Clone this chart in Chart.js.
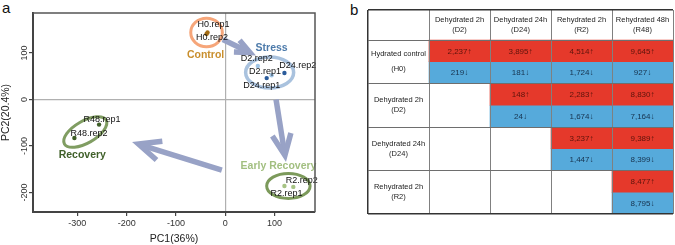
<!DOCTYPE html>
<html>
<head>
<meta charset="utf-8">
<script src="https://cdn.jsdelivr.net/npm/chart.js@4.4.1/dist/chart.umd.min.js"></script>
<style>
  body { margin: 0; background: #fff; width: 675px; height: 245px; overflow: hidden; position: relative; font-family: "Liberation Sans", Arial, sans-serif; }
  #pca { position: absolute; left: 0; top: 0; }
  #tbl { position: absolute; left: 366px; top: 8px; }
  .panel { position: absolute; font-size: 15px; color: #111; line-height: 15px; }
</style>
</head>
<body>
<div class="panel" style="left:2px;top:0px">a</div>
<div class="panel" style="left:350px;top:2px">b</div>
<canvas id="pca" width="340" height="245"></canvas>
<canvas id="tbl" width="309" height="208"></canvas>
<script>
// ---- panel a : PCA ----
const samples = ['H0.rep1', 'H0.rep2', 'D2.rep1', 'D2.rep2', 'D24.rep1', 'D24.rep2', 'R2.rep1', 'R2.rep2', 'R48.rep1', 'R48.rep2'];
const pc1 = [-36, -38, 94, 66, 84, 120, 120, 138, -256, -306];
const pc2 = [144, 141, 52, 72, 46, 57, -186, -188, -54, -83];
const condition = ['H0', 'H0', 'D2', 'D2', 'D24', 'D24', 'R2', 'R2', 'R48', 'R48'];
const conditions = ['H0', 'D2', 'D24', 'R2', 'R48'];
const groupNames = ['Control', 'Stress', 'Early Recovery', 'Recovery'];
const xTicks = [-300, -200, -100, 0, 100];
const yTicks = [-200, -100, 0, 100];

// ---- panel b : DEG counts ----
const colLabels = [['Dehydrated 2h', '(D2)'], ['Dehydrated 24h', '(D24)'], ['Rehydrated 2h', '(R2)'], ['Rehydrated 48h', '(R48)']];
const rowLabels = [['Hydrated control', '(H0)'], ['Dehydrated 2h', '(D2)'], ['Dehydrated 24h', '(D24)'], ['Rehydrated 2h', '(R2)']];
const upDEGs = [
  [2237, 3895, 4514, 9645],
  [null, 148, 2283, 8830],
  [null, null, 3237, 9389],
  [null, null, null, 8477]
];
const downDEGs = [
  [219, 181, 1724, 927],
  [null, 24, 1674, 7164],
  [null, null, 1447, 8399],
  [null, null, null, 8795]
];

// styles
const pointColor = { H0: '#a36c14', D2: '#9fc4e6', D24: '#2b5c9b', R2: '#a6c384', R48: '#3e5e27' };
const groupStyle = {
  'Control':        { ring: '#f6a67a', text: '#c98f2e' },
  'Stress':         { ring: '#a9c2de', text: '#4c7aaa' },
  'Early Recovery': { ring: '#7c9a5b', text: '#a2bf80' },
  'Recovery':       { ring: '#809d62', text: '#40602a' }
};
// ellipse centres / group label anchors in data units, radii in px
const rings = {
  'Control':        { c: [-38, 144], r: [15.8, 14.2], rot: 0, lw: 3, lab: [-40, 95] },
  'Stress':         { c: [90, 58], r: [24, 15.5], rot: 0, lw: 3.5, lab: [94, 110] },
  'Early Recovery': { c: [128, -186], r: [21.7, 12.5], rot: 0, lw: 3, lab: [108, -143] },
  'Recovery':       { c: [-284, -70], r: [24, 11], rot: -0.52, lw: 3, lab: [-290, -120] }
};
const arrows = [
  { from: [-5, 129], to: [50, 101], head: 16 },
  { from: [103, 0], to: [121, -120], head: 23 },
  { from: [-7, -152], to: [-176, -96], head: 24 }
];
const labelOffsets = [[6, -8], [5.5, 4], [-6.7, -3.3], [-1, -7], [-5, 7.3], [13.4, -7], [2, 7.5], [8.5, -6], [3, -5.5], [14.5, -5]];

const pcaDatasets = conditions.map(cnd => ({
  label: cnd,
  data: samples.map((s, i) => condition[i] === cnd ? { x: pc1[i], y: pc2[i], name: s, idx: i } : null).filter(Boolean),
  backgroundColor: pointColor[cnd],
  borderColor: pointColor[cnd],
  pointRadius: 2.2,
  borderWidth: 0
}));

const pcaDecor = {
  id: 'pcaDecor',
  beforeDatasetsDraw(chart) {
    const { ctx, scales: { x, y } } = chart;
    ctx.save();
    groupNames.forEach(g => {
      const e = rings[g];
      ctx.beginPath();
      ctx.ellipse(x.getPixelForValue(e.c[0]), y.getPixelForValue(e.c[1]), e.r[0], e.r[1], e.rot, 0, Math.PI * 2);
      ctx.strokeStyle = groupStyle[g].ring;
      ctx.lineWidth = e.lw;
      ctx.stroke();
    });
    ctx.strokeStyle = '#98a2c6';
    ctx.lineWidth = 5.5;
    ctx.lineCap = 'butt';
    ctx.lineJoin = 'miter';
    arrows.forEach(a => {
      const x0 = x.getPixelForValue(a.from[0]), y0 = y.getPixelForValue(a.from[1]);
      const x1 = x.getPixelForValue(a.to[0]), y1 = y.getPixelForValue(a.to[1]);
      const ang = Math.atan2(y1 - y0, x1 - x0);
      ctx.beginPath();
      ctx.moveTo(x0, y0);
      ctx.lineTo(x1 - 3 * Math.cos(ang), y1 - 3 * Math.sin(ang));
      ctx.stroke();
      ctx.beginPath();
      ctx.moveTo(x1 - a.head * Math.cos(ang - 0.42), y1 - a.head * Math.sin(ang - 0.42));
      ctx.lineTo(x1, y1);
      ctx.lineTo(x1 - a.head * Math.cos(ang + 0.42), y1 - a.head * Math.sin(ang + 0.42));
      ctx.stroke();
    });
    ctx.restore();
  },
  afterDatasetsDraw(chart) {
    const { ctx, scales: { x, y }, chartArea } = chart;
    ctx.save();
    ctx.textAlign = 'center';
    ctx.textBaseline = 'middle';
    ctx.fillStyle = '#111';
    ctx.font = '9px "Liberation Sans", Arial, sans-serif';
    chart.data.datasets.forEach((ds, di) => {
      chart.getDatasetMeta(di).data.forEach((pt, k) => {
        const o = labelOffsets[ds.data[k].idx];
        ctx.fillText(ds.data[k].name, pt.x + o[0], pt.y + o[1]);
      });
    });
    ctx.font = 'bold 10.5px "Liberation Sans", Arial, sans-serif';
    groupNames.forEach(g => {
      ctx.fillStyle = groupStyle[g].text;
      ctx.fillText(g, x.getPixelForValue(rings[g].lab[0]), y.getPixelForValue(rings[g].lab[1]));
    });
    // top / right frame
    ctx.strokeStyle = '#555';
    ctx.lineWidth = 1.5;
    ctx.beginPath();
    ctx.moveTo(chartArea.left, chartArea.top);
    ctx.lineTo(chartArea.right, chartArea.top);
    ctx.lineTo(chartArea.right, chartArea.bottom);
    ctx.stroke();
    ctx.restore();
  }
};

const axisFont = { family: '"Liberation Sans", Arial, sans-serif', size: 9 };
new Chart(document.getElementById('pca'), {
  type: 'scatter',
  data: { datasets: pcaDatasets },
  options: {
    responsive: false,
    animation: false,
    layout: { padding: { top: 13, right: 25, left: 0, bottom: 0 } },
    plugins: { legend: { display: false }, tooltip: { enabled: false } },
    scales: {
      x: {
        min: -390, max: 182,
        afterBuildTicks: s => { s.ticks = xTicks.map(v => ({ value: v })); },
        afterFit: s => { s.height = 33; },
        ticks: { font: axisFont, color: '#333', padding: 2 },
        grid: { color: c => c.tick && c.tick.value === 0 ? '#b0b0b0' : 'rgba(0,0,0,0)', tickColor: '#444', tickLength: 4, lineWidth: 1.2 },
        border: { color: '#444', width: 2 },
        title: { display: true, text: 'PC1(36%)', color: '#222', font: { family: '"Liberation Sans", Arial, sans-serif', size: 10.5 }, padding: { top: 0, bottom: 0 } }
      },
      y: {
        min: -242, max: 186,
        afterBuildTicks: s => { s.ticks = yTicks.map(v => ({ value: v })); },
        afterFit: s => { s.width = 33; },
        ticks: { font: axisFont, color: '#333', padding: -5, minRotation: 90, maxRotation: 90, crossAlign: 'center' },
        grid: { color: c => c.tick && c.tick.value === 0 ? '#b0b0b0' : 'rgba(0,0,0,0)', tickColor: '#444', tickLength: 4, lineWidth: 1.2 },
        border: { color: '#444', width: 2 },
        title: { display: true, text: 'PC2(20.4%)', color: '#222', font: { family: '"Liberation Sans", Arial, sans-serif', size: 10.5 }, padding: { top: 0, bottom: 0 } }
      }
    }
  },
  plugins: [pcaDecor]
});

// ---- table as floating bars ----
const H = 1.38; // header height in sub-row units
const tblDatasets = [];
rowLabels.forEach((r, ri) => {
  tblDatasets.push({
    label: 'up ' + ri, kind: 'up', counts: upDEGs[ri],
    data: [null].concat(upDEGs[ri].map(v => v == null ? null : [H + 2 * ri, H + 2 * ri + 1])),
    backgroundColor: '#e5392b'
  });
  tblDatasets.push({
    label: 'down ' + ri, kind: 'down', counts: downDEGs[ri],
    data: [null].concat(downDEGs[ri].map(v => v == null ? null : [H + 2 * ri + 1, H + 2 * ri + 2])),
    backgroundColor: '#56aadb'
  });
});

const tblText = {
  id: 'tblText',
  afterDatasetsDraw(chart) {
    const { ctx, scales: { x, y } } = chart;
    ctx.save();
    ctx.textAlign = 'center';
    ctx.textBaseline = 'middle';
    ctx.font = '8px "Liberation Sans", Arial, sans-serif';
    chart.data.datasets.forEach((ds, di) => {
      chart.getDatasetMeta(di).data.forEach((bar, k) => {
        if (k === 0 || ds.counts[k - 1] == null) return;
        ctx.fillStyle = ds.kind === 'up' ? '#5c140c' : '#17324d';
        const txt = ds.counts[k - 1].toLocaleString('en-US') + (ds.kind === 'up' ? '↑' : '↓');
        ctx.fillText(txt, bar.x, (bar.y + bar.base) / 2 + 0.5);
      });
    });
    ctx.font = '7.5px "Liberation Sans", Arial, sans-serif';
    ctx.fillStyle = '#222';
    colLabels.forEach((c, i) => {
      const cx = x.getPixelForValue(i + 1), cy = y.getPixelForValue(H / 2);
      ctx.fillText(c[0], cx, cy - 5);
      ctx.fillText(c[1], cx, cy + 5);
    });
    rowLabels.forEach((r, i) => {
      const cx = x.getPixelForValue(0), cy = y.getPixelForValue(H + 2 * i + 1);
      const d = i === 0 ? 7.5 : 5;
      ctx.fillText(r[0], cx, cy - d);
      ctx.fillText(r[1], cx, cy + d);
    });
    ctx.restore();
  }
};

const edge = (c, n) => c.index === 0 || c.index === n;
new Chart(document.getElementById('tbl'), {
  type: 'bar',
  data: { labels: ['', 'D2', 'D24', 'R2', 'R48'], datasets: tblDatasets },
  options: {
    responsive: false,
    animation: false,
    layout: { padding: 2 },
    plugins: { legend: { display: false }, tooltip: { enabled: false } },
    datasets: { bar: { grouped: false, barPercentage: 1, categoryPercentage: 1, borderWidth: 0, borderSkipped: false } },
    scales: {
      x: {
        offset: true,
        ticks: { display: false },
        grid: { offset: true, drawTicks: false, z: 1, color: c => edge(c, 5) ? '#333' : '#808080', lineWidth: c => edge(c, 5) ? 1.5 : 1 },
        border: { display: false }
      },
      y: {
        reverse: true, min: 0, max: H + 8,
        afterBuildTicks: s => { s.ticks = [0, H, H + 2, H + 4, H + 6, H + 8].map(v => ({ value: v })); },
        ticks: { display: false },
        grid: { drawTicks: false, z: 1, color: c => edge(c, 5) ? '#333' : '#6e6e6e', lineWidth: c => edge(c, 5) ? 1.5 : 1 },
        border: { display: false }
      }
    }
  },
  plugins: [tblText]
});
</script>
</body>
</html>
